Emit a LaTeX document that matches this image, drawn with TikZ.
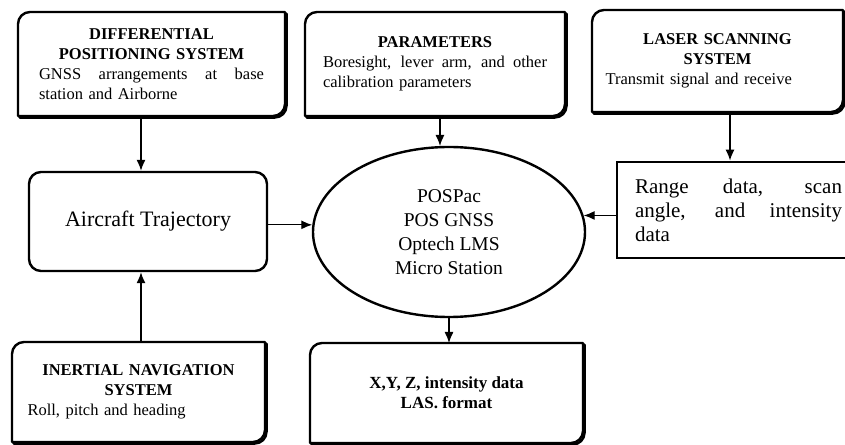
\documentclass[tikz,border=0pt]{standalone}
\usepackage{fontspec}
\setmainfont{Liberation Serif}
\usetikzlibrary{shapes.geometric,arrows.meta,backgrounds}

\tikzset{
  boxline/.style={line width=2.4pt,line join=round},
  dbox/.style={inner sep=0pt,outer sep=0pt,align=left,font=\fontsize{16.5}{20}\selectfont},
  conn/.style={line width=1.3pt,-{Latex[length=11pt,width=9pt]}},
}

\newcommand\diagoutline[2]{%
  \path[#1] (#2.south west) -- ([yshift=-12pt]#2.north west)
    arc[start angle=180,end angle=90,radius=12pt] -- (#2.north east)
    -- ([yshift=12pt]#2.south east)
    arc[start angle=0,end angle=-90,radius=12pt] -- cycle;}
\newcommand\fullline[2]{{\spaceskip=0pt\xspaceskip=0pt\makebox[#1][s]{#2}}}

\begin{document}
\begin{tikzpicture}[x=1pt,y=1pt]
\useasboundingbox (0,0) rectangle (845,444);

% diagonal-corner boxes
\node[dbox,minimum width=267pt,minimum height=104pt,text width=225pt] (diff) at (151.5,380)
  {{\centering\bfseries DIFFERENTIAL\\POSITIONING SYSTEM\par}%
   \fullline{225pt}{GNSS arrangements at base}\par station and Airborne};

\node[dbox,minimum width=260pt,minimum height=104pt,text width=224pt] (param) at (435,380)
  {{\centering\bfseries PARAMETERS\par}%
   \fullline{224pt}{Boresight, lever arm, and other}\par calibration parameters};

\node[dbox,minimum width=251pt,minimum height=102pt,text width=224pt] (laser) at (717.5,383)
  {{\centering\bfseries LASER SCANNING\\SYSTEM\par}%
   Transmit signal and receive};

\node[dbox,minimum width=253pt,minimum height=100pt,text width=222pt] (iner) at (138.5,52)
  {{\centering\bfseries INERTIAL NAVIGATION\\SYSTEM\par}%
   Roll, pitch and heading};

\node[dbox,minimum width=273pt,minimum height=100pt,align=center,
      font=\bfseries\fontsize{17}{20}\selectfont] (xyz) at (446.5,51)
  {X,Y, Z, intensity data\\LAS. format};

% other nodes
\node[draw,boxline,rounded corners=12pt,minimum width=238pt,minimum height=99pt,
      font=\fontsize{22}{26}\selectfont] (air) at (148,222.5) {Aircraft Trajectory};

\node[ellipse,draw,boxline,minimum width=272pt,minimum height=170pt,inner sep=0pt,
      align=center,font=\fontsize{19.5}{24}\selectfont] (proc) at (449,212)
  {POSPac\\POS GNSS\\Optech LMS\\Micro Station};

\node[draw,line width=2.8pt,minimum width=243pt,minimum height=96pt,inner sep=0pt,
      text width=207pt,align=left,font=\fontsize{21}{24}\selectfont] (range) at (738.5,234)
  {\fullline{207pt}{Range data, scan}\par
   \fullline{207pt}{angle, and intensity}\par data};

% outlines of the diagonal-corner boxes
\begin{pgfonlayer}{background}
  \foreach \n in {diff,param,laser,iner,xyz}{
    \begin{scope}[transform canvas={shift={(1.6pt,-1.6pt)}}]
      \diagoutline{boxline,draw}{\n}
    \end{scope}
    \diagoutline{boxline,draw,fill=white}{\n}
  }
\end{pgfonlayer}

% connectors
\coordinate (cx) at (141,0);
\coordinate (cl) at (730,0);
\draw[conn] (diff.south -| cx) -- (air.north -| cx);
\draw[conn] (iner.north -| cx) -- (air.south -| cx);
\draw[conn] (param.south -| proc.96) -- (proc.96);
\draw[conn] (laser.south -| cl) -- (range.north -| cl);
\draw[conn] (range.west |- proc.7) -- (proc.7);
\draw[conn] (air.east |- proc.177) -- (proc.177);
\draw[conn] (proc.south) -- (xyz.north -| proc.south);
\end{tikzpicture}
\end{document}
